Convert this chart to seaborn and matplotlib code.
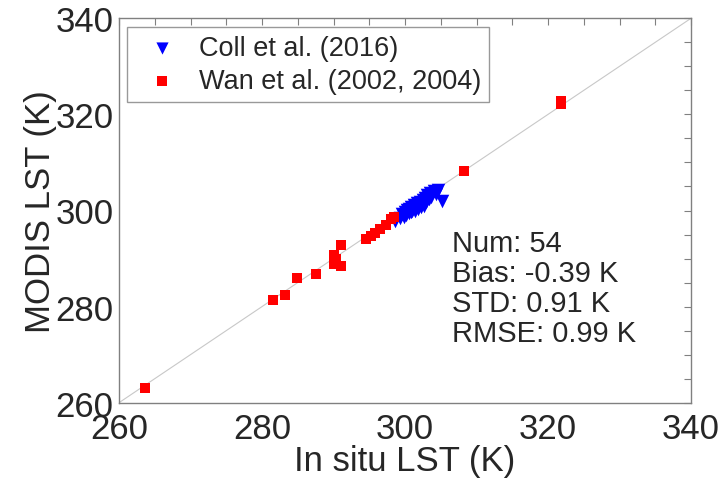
import matplotlib
matplotlib.use("Agg")
import matplotlib.pyplot as plt
import seaborn as sns
import pandas as pd
from matplotlib.ticker import MultipleLocator

# Data
wan_insitu = [263.6, 281.6, 283.2, 284.9, 287.6, 290.0, 290.3, 290.1, 291.1, 291.1,
              294.5, 295.2, 295.8, 296.5, 297.3, 298.1, 298.4, 308.2, 321.8, 321.8]
wan_modis = [263.0, 281.4, 282.4, 285.9, 286.8, 288.8, 290.0, 290.7, 288.4, 292.9,
             294.0, 294.6, 295.4, 296.2, 297.0, 298.2, 298.6, 308.3, 322.8, 322.2]
coll_insitu = [298.6, 299.3, 299.6, 299.8, 300.0, 300.2, 300.3, 300.5, 300.6, 300.8,
               300.9, 301.0, 301.2, 301.3, 301.4, 301.6, 301.7, 301.8, 302.0, 302.1,
               302.2, 302.4, 302.5, 302.7, 302.8, 303.0, 303.1, 303.3, 303.5, 303.7,
               304.0, 304.3, 304.6, 305.2]
coll_modis = [297.9, 298.4, 299.2, 298.7, 299.6, 299.0, 300.1, 299.4, 300.3, 299.7,
              300.8, 300.0, 300.5, 301.2, 299.8, 300.9, 301.5, 300.4, 301.1, 301.8,
              300.8, 301.4, 302.2, 301.0, 302.6, 301.7, 303.2, 302.3, 303.6, 302.8,
              304.0, 303.4, 304.2, 302.0]
series_names = ["Coll et al. (2016)", "Wan et al. (2002, 2004)"]
stats_lines = ["Num: 54", "Bias: -0.39 K", "STD: 0.91 K", "RMSE: 0.99 K"]
axis_range = [260, 340]

coll_df = pd.DataFrame({"insitu": coll_insitu, "modis": coll_modis})
wan_df = pd.DataFrame({"insitu": wan_insitu, "modis": wan_modis})

sns.set_style("white")
plt.rcParams["font.family"] = ["Liberation Sans", "DejaVu Sans"]

fig = plt.figure(figsize=(7.23, 4.85), dpi=100)
ax = fig.add_axes([119 / 723, 1 - 403.7 / 485, (691 - 119) / 723, (403.7 - 19.3) / 485])

ax.plot(axis_range, axis_range, color="#c8c8c8", lw=0.8, zorder=1)

sns.scatterplot(data=coll_df, x="insitu", y="modis", color="#0000ff", marker="v",
                s=95, linewidth=0, ax=ax, zorder=2, label=series_names[0])
sns.scatterplot(data=wan_df, x="insitu", y="modis", color="#ff0000", marker="s",
                s=55, linewidth=0, ax=ax, zorder=3, label=series_names[1])

ax.set_xlim(axis_range)
ax.set_ylim(axis_range)
ax.xaxis.set_major_locator(MultipleLocator(20))
ax.yaxis.set_major_locator(MultipleLocator(20))
ax.xaxis.set_minor_locator(MultipleLocator(5))
ax.yaxis.set_minor_locator(MultipleLocator(5))
ax.tick_params(which="both", direction="in", top=True, right=True, length=5,
               width=0.8, color="#808080")
ax.tick_params(which="major", labelsize=25)
ax.tick_params(axis="x", which="major", pad=7)
ax.tick_params(axis="y", which="major", pad=4)
for sp in ax.spines.values():
    sp.set_color("#808080")
    sp.set_linewidth(1.0)

ax.set_xlabel("In situ LST (K)", fontsize=25, labelpad=-1)
ax.set_ylabel("MODIS LST (K)", fontsize=25, labelpad=-1)

leg = ax.legend(loc="upper left", bbox_to_anchor=(0.014, 0.977), borderaxespad=0,
                fontsize=19.5, frameon=True, fancybox=False, edgecolor="#808080",
                handletextpad=0.35, borderpad=0.3, labelspacing=0.25,
                markerscale=0.9, handlelength=2.0)
leg.get_frame().set_linewidth(1.0)

y0 = (403.7 - 251.7) / 384.4
dy = 30.0 / 384.4
for i, line in enumerate(stats_lines):
    ax.text(0.582, y0 - i * dy, line, transform=ax.transAxes, fontsize=21,
            va="baseline", ha="left")

fig.savefig("out.png", dpi=100)
